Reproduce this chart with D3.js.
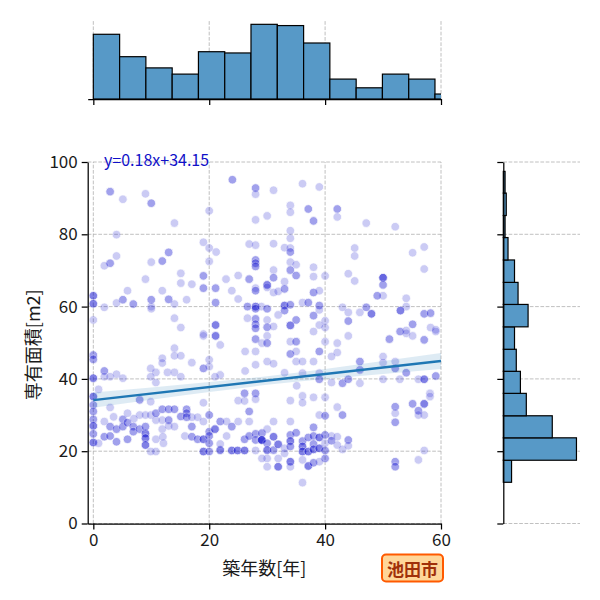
<!DOCTYPE html>
<html><head><meta charset="utf-8">
<script src="https://cdn.jsdelivr.net/npm/d3@7"></script>
<style>body{margin:0;background:#fff} svg{display:block} text{font-family:"Noto Sans CJK JP","Noto Sans",sans-serif}</style>
</head><body><svg id="c" width="600" height="600"></svg>
<script>
// ---------- data ----------
const xTicks = [0, 20, 40, 60];
const yTicks = [0, 20, 40, 60, 80, 100];
const xLabel = "築年数[年]";
const yLabel = "専有面積[m2]";
const cityName = "池田市";
const regSlope = 0.18;
const regIntercept = 34.15;
const regText = "y=0.18x+34.15";
// confidence band half-width
const bandX = [0, 10, 20, 30, 40, 50, 60];
const bandHalf = [2.1, 1.7, 1.4, 1.2, 1.4, 1.8, 2.2];
// marginal histograms
const topBinEdges = [0, 4.54, 9.07, 13.61, 18.14, 22.68, 27.21, 31.75, 36.29, 40.82, 45.36, 49.89, 54.43, 58.96, 63.5];
const topCounts = [52, 34, 25, 20, 38, 37, 60, 59, 45, 16, 9, 20, 16, 4];
const rightBinEdges = [11.4, 17.5, 23.7, 29.8, 36.0, 42.1, 48.2, 54.4, 60.6, 66.7, 72.9, 79.1, 85.2, 91.4, 97.4];
const rightCounts = [14, 124, 83, 39, 29, 22, 19, 42, 25, 19, 8, 3, 5, 3];
// scatter points: [age, area, overlapping copies]
const points = [
[24.0,95.1,2],[28.0,92.8,2],[28.0,91.1,1],[2.9,91.8,2],[5.1,89.7,1],[9.0,91.2,1],[10.0,88.6,2],[20.0,86.5,1],[14.0,83.1,1],[28.0,84.0,1],[4.0,79.9,1],[19.0,77.8,1],[20.0,76.2,1],[21.2,75.1,1],[20.0,72.5,1],[26.9,77.3,1],[28.0,77.0,1],[4.0,74.0,1],[2.9,72.0,2],[1.9,71.3,1],[13.0,75.0,2],[11.9,72.6,2],[10.0,72.3,1],[15.1,69.2,1],[15.1,66.5,1],[17.0,66.2,1],[19.0,68.5,2],[19.0,65.1,2],[9.0,67.6,1],[5.9,64.4,1],[5.1,61.9,2],[4.0,61.0,1],[1.9,59.8,1],[0,63.0,3],[0,60.8,3],[0,56.3,1],[6.9,60.7,2],[10.0,61.9,2],[10.0,60.0,1],[10.0,59.4,1],[11.9,64.4,1],[13.0,62.0,2],[14.0,60.7,1],[16.1,61.9,1],[14.0,56.8,1],[15.1,54.2,1],[21.1,65.1,2],[21.1,61.1,2],[21.1,54.9,3],[19.0,52.4,1],[22.9,67.6,1],[25.0,68.6,1],[26.9,67.6,2],[23.9,64.4,1],[25.0,62.1,1],[28.0,72.9,2],[28.0,72.0,2],[28.0,71.1,2],[28.0,65.1,1],[28.0,64.4,2],[26.6,60.0,2],[28.0,60.0,3],[28.0,59.4,2],[29.0,60.0,1],[26.6,56.8,1],[28.0,56.6,2],[28.0,55.1,2],[28.0,54.0,2],
[31.1,92.2,1],[36.1,94.0,1],[39.0,93.1,1],[34.0,88.0,1],[34.0,86.1,1],[37.1,87.0,2],[42.1,87.0,2],[42.1,84.8,1],[38.0,83.7,2],[30.0,85.1,1],[47.1,83.1,1],[52.1,82.1,1],[34.0,81.0,1],[34.0,78.9,1],[31.1,77.4,1],[33.0,76.3,1],[34.0,76.2,1],[34.0,75.1,2],[45.1,76.2,1],[45.1,74.0,1],[55.1,74.9,1],[57.1,76.5,1],[57.1,70.4,1],[34.0,72.3,1],[35.0,71.6,1],[34.0,70.1,2],[35.0,68.6,2],[31.1,70.1,1],[31.1,68.0,2],[30.0,66.0,3],[30.0,65.3,1],[31.1,63.9,1],[31.9,64.2,1],[33.0,66.9,1],[33.0,64.9,2],[38.0,70.9,1],[38.0,68.3,1],[40.0,68.5,1],[38.0,63.9,2],[39.0,64.4,1],[44.0,69.1,1],[45.1,67.1,1],[50.0,68.0,4],[50.0,66.0,2],[50.0,63.0,1],[49.0,63.0,2],[54.0,62.3,1],[54.0,60.0,1],[53.0,58.9,3],[48.0,58.0,3],[47.1,59.8,2],[46.0,58.4,1],[43.0,59.8,1],[44.0,58.4,1],[44.0,56.0,2],[57.1,58.0,2],[58.2,58.2,2],[55.1,55.1,2],[58.2,54.2,1],[59.1,53.6,1],[53.0,53.1,1],[54.0,53.4,1],[30.0,59.4,2],[30.0,56.3,1],[30.0,54.3,2],[33.0,60.3,3],[33.0,58.9,2],[34.0,60.5,2],[36.1,61.1,1],[37.1,61.1,2],[39.0,60.3,2],[39.0,59.1,1],[38.0,57.5,2],[35.0,56.3,2],[34.0,54.8,3],[31.9,57.7,1],[31.1,54.5,1],[39.0,54.9,1],[40.0,56.1,1],[40.0,54.2,1],[38.0,53.1,1],
[21.1,51.9,3],[19.0,51.9,1],[21.9,49.4,1],[0,46.6,2],[0,45.4,2],[14.0,48.5,1],[14.0,46.4,1],[15.1,46.4,1],[11.9,45.7,1],[11.9,44.4,1],[17.0,44.5,1],[19.0,42.9,2],[20.0,45.3,1],[20.0,43.4,1],[9.9,42.9,1],[10.8,41.8,1],[12.8,41.8,1],[14.0,41.8,1],[15.1,40.6,1],[10.8,39.0,1],[9.9,40.6,1],[1.9,42.2,2],[1.9,40.6,1],[2.9,40.6,1],[4.0,41.3,1],[5.1,40.2,1],[0,40.2,3],[0.9,37.1,1],[21.9,41.1,1],[21.0,40.6,1],[26.2,42.2,1],[28.0,43.9,1],[28.0,47.6,1],[26.2,47.6,1],[28.0,51.0,2],[29.1,49.9,1],[0,35.1,3],[0,32.8,2],[0,31.0,2],[0,28.8,2],[0,27.0,3],[0,24.8,2],[0,22.4,3],[0.9,22.2,1],[2.9,32.1,1],[1.9,28.2,1],[1.9,24.0,2],[2.9,26.8,2],[2.9,24.2,2],[4.0,26.1,2],[4.0,22.6,2],[5.1,28.8,2],[5.1,26.8,2],[5.9,30.5,1],[5.9,27.9,2],[5.9,23.3,2],[6.9,26.8,2],[6.9,25.4,2],[8.0,26.1,2],[8.0,34.2,2],[8.0,30.0,1],[9.0,30.0,1],[9.0,24.9,3],[9.0,23.6,3],[9.0,21.7,3],[9.0,26.8,2],[9.9,33.7,1],[9.9,30.0,1],[10.8,28.6,1],[10.8,30.5,2],[10.8,23.3,1],[9.9,19.9,1],[10.8,19.9,1],[11.9,31.6,2],[11.9,28.6,1],[11.9,26.1,1],[13.0,31.6,2],[14.0,31.6,2],[13.0,28.6,2],[13.0,27.0,1],[14.0,26.8,1],[15.1,29.6,2],[16.1,31.6,2],[16.1,30.5,2],[16.1,29.4,2],[15.8,24.2,1],[17.0,29.4,1],[17.0,26.8,2],[17.0,24.0,2],[18.0,29.4,1],[18.0,23.3,2],[19.0,33.4,1],[19.0,28.2,1],[19.0,23.3,3],[19.0,19.9,3],[20.0,30.0,2],[20.0,25.4,2],[20.0,24.2,2],[20.0,22.2,2],[20.0,19.9,2],[21.0,26.1,3],[21.9,28.2,2],[21.9,20.3,3],[21.9,22.0,1],[23.0,28.2,1],[23.0,24.2,1],[23.9,26.8,2],[23.9,20.2,3],[24.9,20.2,3],[26.1,20.2,3],[25.0,28.2,1],[25.0,34.0,1],[26.1,36.0,2],[26.1,33.9,1],[26.9,31.0,2],[26.9,28.2,1],[26.1,23.3,2],[26.9,24.2,2],[28.0,36.0,2],[28.0,34.4,1],[28.0,24.8,2],[28.0,23.1,2],[29.0,23.1,3],[28.0,20.2,1],[12.1,22.2,1],[7.0,29.0,1],[3.5,29.5,1],[12.0,24.0,1],
[30.0,51.9,1],[30.0,49.9,2],[34.0,50.3,1],[35.0,50.3,2],[34.0,46.9,2],[35.0,47.6,1],[35.0,44.8,1],[36.1,44.8,1],[38.0,44.8,1],[39.0,47.6,2],[40.0,50.3,1],[42.1,49.9,1],[42.1,47.3,1],[41.1,46.2,1],[44.0,51.9,1],[30.0,44.8,1],[31.1,44.2,1],[33.0,41.7,1],[36.1,41.6,1],[39.0,41.6,1],[39.0,39.9,2],[41.1,39.0,1],[43.0,38.8,2],[44.0,39.9,2],[46.0,38.8,1],[46.0,44.8,2],[46.0,42.5,2],[50.0,46.2,1],[50.0,44.5,1],[50.0,39.9,1],[52.1,44.8,1],[52.1,42.9,2],[54.0,41.7,2],[52.9,39.9,1],[56.1,39.9,1],[57.1,39.9,3],[59.1,40.8,2],[51.1,51.0,2],[52.9,53.1,1],[54.0,52.6,1],[55.1,51.9,1],[57.1,50.8,2],[59.1,53.1,1],[35.1,38.1,1],[34.0,34.0,1],[36.1,35.3,1],[36.1,33.4,1],[38.0,34.9,1],[40.0,34.9,1],[42.1,32.2,1],[43.0,30.0,2],[39.0,30.0,1],[40.0,29.8,2],[52.1,32.3,2],[52.1,30.5,1],[52.1,28.0,2],[55.1,33.1,2],[56.1,31.2,2],[57.1,33.1,3],[58.1,36.0,1],[58.1,35.1,1],[56.1,30.0,1],[57.1,30.0,1],
[31.1,28.2,1],[34.0,28.2,1],[29.1,25.0,2],[29.1,23.1,3],[30.0,26.1,1],[30.0,22.2,2],[30.0,20.3,3],[31.1,24.0,3],[31.1,20.3,2],[31.9,21.9,3],[31.9,15.7,3],[33.0,20.8,1],[33.0,19.4,1],[34.0,24.5,2],[34.0,22.8,3],[34.0,21.3,2],[34.0,17.1,3],[34.0,15.7,1],[35.0,25.1,2],[36.1,22.8,2],[36.1,21.3,3],[36.1,19.9,3],[37.1,23.8,2],[37.1,19.9,3],[37.1,15.9,3],[38.0,26.6,2],[38.0,24.2,2],[38.0,22.0,2],[38.0,20.5,3],[39.0,23.8,3],[39.0,20.8,3],[40.0,24.5,2],[40.0,22.2,1],[40.0,20.2,2],[40.0,18.0,2],[41.1,24.2,1],[41.1,22.9,2],[42.1,24.0,1],[42.1,21.7,1],[43.0,20.5,1],[44.0,23.1,2],[44.0,21.5,1],[30.0,18.0,1],[30.0,15.7,1],[29.1,18.0,1],[31.9,18.0,1],[36.1,17.6,1],[38.0,16.8,2],[39.0,17.1,1],[36.1,11.3,1],[52.1,17.1,2],[52.1,15.7,2],[56.1,17.6,1],[57.1,20.2,1]
];

// ---------- drawing ----------
const svg = d3.select("#c");
const FONT = 17;
const x = d3.scaleLinear().domain([-0.97, 60]).range([87.7, 441]);
const y = d3.scaleLinear().domain([0, 100]).range([523.5, 162]);
const topY = d3.scaleLinear().domain([0, 63]).range([99, 20.6]);
const rightX = d3.scaleLinear().domain([0, 130]).range([503.3, 580]);

const gridStyle = s => s.attr("stroke", "#b0b0b0").attr("stroke-width", 0.8).attr("stroke-dasharray", "3.7,1.6").attr("fill", "none");

const defs = svg.append("defs");
defs.append("clipPath").attr("id", "mainClip").append("rect")
  .attr("x", x.range()[0]).attr("y", y.range()[1]).attr("width", x.range()[1] - x.range()[0]).attr("height", y.range()[0] - y.range()[1]);
defs.append("clipPath").attr("id", "topClip").append("rect")
  .attr("x", x.range()[0]).attr("y", topY.range()[1] - 2).attr("width", x.range()[1] - x.range()[0]).attr("height", topY.range()[0] - topY.range()[1] + 2);

// ---- main grid ----
const main = svg.append("g");
main.append("g").selectAll("line").data(xTicks).join("line")
  .attr("x1", d => x(d)).attr("x2", d => x(d)).attr("y1", y.range()[0]).attr("y2", y.range()[1]).call(gridStyle);
main.append("g").selectAll("line").data(yTicks).join("line")
  .attr("y1", d => y(d)).attr("y2", d => y(d)).attr("x1", x.range()[0]).attr("x2", x.range()[1]).call(gridStyle);

// ---- scatter ----
const expanded = points.flatMap(p => d3.range(p[2]).map(() => p));
main.append("g").attr("clip-path", "url(#mainClip)").selectAll("circle").data(expanded).join("circle")
  .attr("cx", d => x(d[0])).attr("cy", d => y(d[1])).attr("r", 4.3)
  .attr("fill", "mediumblue").attr("stroke", "white").attr("stroke-width", 0.75).attr("opacity", 0.2);

// ---- regression band + line ----
const bandData = bandX.map((bx, i) => ({ x: bx, lo: regSlope * bx + regIntercept - bandHalf[i], hi: regSlope * bx + regIntercept + bandHalf[i] }));
const rg = main.append("g").attr("clip-path", "url(#mainClip)");
rg.append("path").datum(bandData)
  .attr("d", d3.area().curve(d3.curveMonotoneX).x(d => x(d.x)).y0(d => y(d.lo)).y1(d => y(d.hi)))
  .attr("fill", "#1f77b4").attr("opacity", 0.15);
rg.append("line")
  .attr("x1", x(bandX[0])).attr("y1", y(regSlope * bandX[0] + regIntercept))
  .attr("x2", x(bandX[bandX.length - 1])).attr("y2", y(regSlope * bandX[bandX.length - 1] + regIntercept))
  .attr("stroke", "#1f77b4").attr("stroke-width", 2.3);

// ---- main axes ----
const xAxis = main.append("g").attr("transform", `translate(0,${y.range()[0]})`)
  .call(d3.axisBottom(x).tickValues(xTicks).tickSize(6).tickSizeOuter(0).tickPadding(4));
const yAxis = main.append("g").attr("transform", `translate(${x.range()[0]},0)`)
  .call(d3.axisLeft(y).tickValues(yTicks).tickSize(6).tickSizeOuter(0).tickPadding(4));
[xAxis, yAxis].forEach(a => {
  a.selectAll("path,line").attr("stroke", "#000").attr("stroke-width", 1.25);
  a.selectAll("text").attr("font-size", FONT).attr("fill", "#1a1a1a").style("font-family", '"Noto Sans CJK JP", sans-serif');
});

// regression text
svg.append("text").attr("x", 104).attr("y", 166).attr("font-size", 16).attr("fill", "#1010c8").text(regText);

// labels
svg.append("text").attr("x", (x.range()[0] + x.range()[1]) / 2).attr("y", 575).attr("text-anchor", "middle")
  .attr("font-size", 18).attr("fill", "#1a1a1a").text(xLabel);
svg.append("text").attr("transform", `translate(32,${(y.range()[0] + y.range()[1]) / 2 + 2}) rotate(-90)`)
  .attr("text-anchor", "middle").attr("dominant-baseline", "central")
  .attr("font-size", 18).attr("fill", "#1a1a1a").text(yLabel);

// ---- top histogram ----
const topG = svg.append("g");
topG.append("g").selectAll("line").data(xTicks).join("line")
  .attr("x1", d => x(d)).attr("x2", d => x(d)).attr("y1", topY.range()[0]).attr("y2", topY.range()[1]).call(gridStyle);
topG.append("g").attr("clip-path", "url(#topClip)").selectAll("rect").data(topCounts).join("rect")
  .attr("x", (d, i) => x(topBinEdges[i])).attr("width", (d, i) => x(topBinEdges[i + 1]) - x(topBinEdges[i]))
  .attr("y", d => topY(d)).attr("height", d => topY(0) - topY(d))
  .attr("fill", "#5799c7").attr("stroke", "#000").attr("stroke-width", 1.2);
const topAxis = topG.append("g").attr("transform", `translate(0,${topY.range()[0]})`)
  .call(d3.axisBottom(x).tickValues(xTicks).tickSize(6).tickSizeOuter(0).tickFormat(""));
topAxis.selectAll("path,line").attr("stroke", "#000").attr("stroke-width", 1.25);

// ---- right histogram ----
const rG = svg.append("g");
rG.append("g").selectAll("line").data(yTicks).join("line")
  .attr("y1", d => y(d)).attr("y2", d => y(d)).attr("x1", rightX.range()[0]).attr("x2", rightX.range()[1]).call(gridStyle);
rG.append("g").selectAll("rect").data(rightCounts).join("rect")
  .attr("y", (d, i) => y(rightBinEdges[i + 1])).attr("height", (d, i) => y(rightBinEdges[i]) - y(rightBinEdges[i + 1]))
  .attr("x", rightX(0)).attr("width", d => rightX(d) - rightX(0))
  .attr("fill", "#5799c7").attr("stroke", "#000").attr("stroke-width", 1.2);
const rAxis = rG.append("g").attr("transform", `translate(${rightX.range()[0]},0)`)
  .call(d3.axisLeft(y).tickValues(yTicks).tickSize(6).tickSizeOuter(0).tickFormat(""));
rAxis.selectAll("path,line").attr("stroke", "#000").attr("stroke-width", 1.25);

// ---- city badge ----
const badge = svg.append("g");
badge.append("rect").attr("x", 382).attr("y", 554.5).attr("width", 61).attr("height", 27).attr("rx", 4)
  .attr("fill", "#ffd699").attr("stroke", "#ff5a00").attr("stroke-width", 2);
badge.append("text").attr("x", 412.5).attr("y", 568.5).attr("text-anchor", "middle").attr("dominant-baseline", "central")
  .attr("font-size", 17).attr("font-weight", "bold").attr("fill", "#a0300a").text(cityName);
</script>
</body></html>
